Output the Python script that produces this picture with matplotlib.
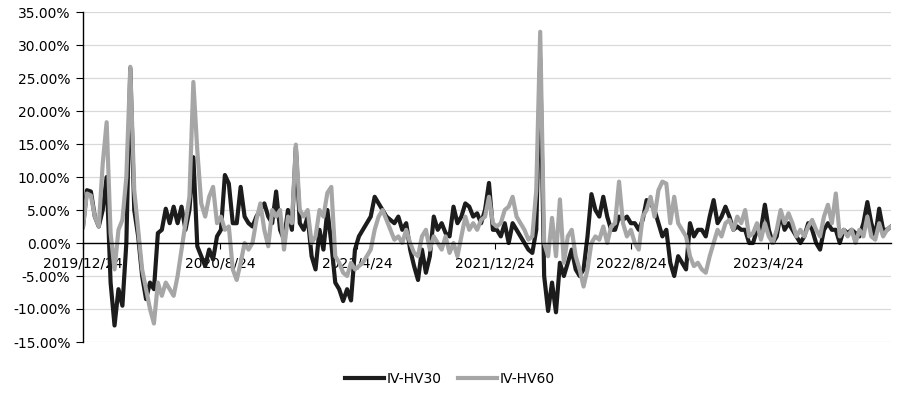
import numpy as np
import pandas as pd
import matplotlib
matplotlib.use('Agg')
import matplotlib.pyplot as plt

# 周度数据 (%), 自 2019/12/24 起
iv_hv30 = [
    2.5, 8.0, 7.8, 4.0, 2.5, 5.0, 10.0, -6.0, -12.5, -7.0,
    -9.5, 0.0, 26.5, 5.0, 1.0, -5.0, -8.5, -6.0, -7.0, 1.5,
    2.0, 5.2, 3.0, 5.5, 3.0, 5.5, 2.0, 5.0, 13.0, -0.5,
    -2.0, -3.5, -1.0, -2.5, 1.0, 2.0, 10.3, 9.0, 3.0, 3.0,
    8.5, 4.0, 3.0, 2.5, 4.0, 5.0, 6.0, 4.0, 3.0, 7.8,
    2.0, 0.5, 5.0, 2.0, 14.5, 3.0, 2.0, 4.0, -2.0, -4.0,
    2.0, -1.0, 5.0, 0.0, -6.0, -7.0, -8.8, -7.0, -8.7, -1.0,
    1.0, 2.0, 3.0, 4.0, 7.0, 6.0, 5.0, 4.0, 3.5, 3.0,
    4.0, 2.0, 3.0, -1.0, -3.5, -5.6, -1.0, -4.5, -2.0, 4.0,
    2.0, 3.0, 1.5, 1.0, 5.5, 3.0, 4.0, 6.0, 5.5, 4.0,
    4.5, 3.0, 5.0, 9.1, 2.0, 2.0, 1.0, 3.0, 0.0, 3.0,
    2.0, 1.0, 0.0, -1.0, -1.5, 2.0, 28.0, -5.0, -10.3, -6.0,
    -10.5, -3.0, -5.0, -3.0, -1.0, -4.0, -5.0, -4.0, 1.0, 7.4,
    5.0, 4.0, 7.0, 4.0, 2.0, 2.0, 4.0, 3.5, 4.0, 3.0,
    3.0, 2.0, 3.5, 6.5, 6.0, 5.0, 3.0, 1.0, 2.0, -3.0,
    -5.0, -2.0, -3.0, -4.0, 3.0, 1.0, 2.0, 2.0, 1.0, 4.0,
    6.5, 3.0, 4.0, 5.5, 4.0, 2.0, 2.5, 2.0, 2.0, 0.0,
    0.0, 2.0, 2.0, 5.8, 2.0, 0.0, 1.0, 4.5, 2.0, 3.0,
    2.0, 1.0, 0.0, 1.0, 3.0, 2.0, 0.0, -1.0, 2.0, 3.0,
    2.0, 2.0, 0.0, 2.0, 1.5, 2.0, 1.5, 1.0, 3.0, 6.2,
    3.0, 1.0, 5.2, 2.0, 2.0, 2.5,
]
iv_hv60 = [
    2.4, 7.5, 7.2, 4.0, 2.5, 12.0, 18.3, 1.5, -4.0, 2.0,
    3.5, 10.0, 26.7, 8.0, 2.0, -4.0, -7.0, -10.0, -12.2, -6.0,
    -8.0, -6.0, -7.0, -8.0, -5.0, -1.0, 3.0, 7.0, 24.4, 14.0,
    6.0, 4.0, 7.0, 8.5, 3.0, 4.0, 2.0, 2.5, -4.0, -5.6,
    -3.0, 0.0, -1.0, 0.0, 3.5, 6.0, 2.0, -0.5, 5.0, 4.0,
    5.0, -1.0, 4.0, 3.0, 14.9, 5.0, 4.0, 5.0, 0.0, 1.0,
    5.0, 4.0, 7.6, 8.5, -2.0, -3.0, -4.5, -5.0, -3.0, -4.0,
    -3.5, -3.0, -2.0, -1.0, 2.0, 4.0, 5.0, 3.5, 2.0, 0.5,
    1.0, 0.0, 2.0, 0.0, -1.5, -2.0, 1.0, 2.0, -1.0, 1.0,
    0.0, -1.0, 1.0, -1.5, 0.0, -2.0, 1.0, 4.0, 2.0, 3.0,
    2.0, 3.5, 4.0, 7.0, 3.0, 2.5, 3.0, 5.0, 5.5, 7.0,
    4.0, 3.0, 2.0, 0.5, 1.0, 8.0, 32.0, 0.0, -2.0, 3.8,
    -2.0, 6.6, -3.0, 1.0, 2.0, -2.0, -4.0, -6.6, -4.0, 0.0,
    1.0, 0.5, 2.5, 0.0, 2.5, 3.0, 9.3, 3.0, 1.0, 2.0,
    0.0, -1.0, 4.0, 5.0, 7.0, 4.0, 8.0, 9.3, 9.0, 3.0,
    7.0, 3.0, 2.0, 1.0, -2.0, -3.5, -3.0, -4.0, -4.5, -2.0,
    0.0, 2.0, 1.0, 3.0, 3.5, 2.0, 4.0, 3.0, 5.0, 1.0,
    1.5, 3.0, 0.5, 3.0, 1.0, 0.0, 2.0, 5.0, 3.0, 4.5,
    3.0, 1.0, 2.0, 1.0, 2.5, 3.5, 2.0, 1.0, 4.0, 5.8,
    3.0, 7.5, 1.0, 2.0, 1.0, 2.0, 0.0, 2.0, 1.0, 4.0,
    1.0, 0.5, 3.0, 1.0, 2.0, 2.5,
]
tick_dates = ['2019-12-24', '2020-08-24', '2021-04-24', '2021-12-24', '2022-08-24', '2023-04-24']
tick_labels = ['2019/12/24', '2020/8/24', '2021/4/24', '2021/12/24', '2022/8/24', '2023/4/24']

dates = pd.date_range('2019-12-24', periods=len(iv_hv30), freq='7D')

fig = plt.figure(figsize=(9, 3.94), dpi=100)
ax = fig.add_axes([83 / 900, 1 - 342 / 394, 808 / 900, 330 / 394])

ax.plot(dates, iv_hv30, color='#1c1c1c', lw=3.0, label='IV-HV30', solid_joinstyle='round')
ax.plot(dates, iv_hv60, color='#a6a6a6', lw=3.0, label='IV-HV60', solid_joinstyle='round')

ax.set_ylim(-15, 35)
ax.set_yticks(np.arange(-15, 36, 5))
ax.set_yticklabels(['%.2f%%' % v for v in np.arange(-15, 36, 5)], fontsize=10)
ax.set_xlim(dates[0], dates[-1])
ax.set_xticks(pd.to_datetime(tick_dates))
ax.set_xticklabels(tick_labels, fontsize=10)

ax.grid(axis='y', color='#d9d9d9', lw=0.9)
ax.set_axisbelow(True)
for s in ['top', 'right']:
    ax.spines[s].set_visible(False)
ax.spines['bottom'].set_position(('data', 0))
ax.spines['bottom'].set_color('black')
ax.spines['bottom'].set_linewidth(1.0)
ax.spines['left'].set_color('black')
ax.spines['left'].set_linewidth(1.0)
ax.tick_params(axis='x', direction='out', length=4, pad=6, color='black')
ax.tick_params(axis='y', direction='out', length=5, pad=4, color='black')

fig.legend(loc='lower center', bbox_to_anchor=(0.5, -0.012), ncol=2, frameon=False,
           fontsize=10, handlelength=2.8, handletextpad=0.2, columnspacing=1.2)

fig.savefig('out.png', dpi=100)
